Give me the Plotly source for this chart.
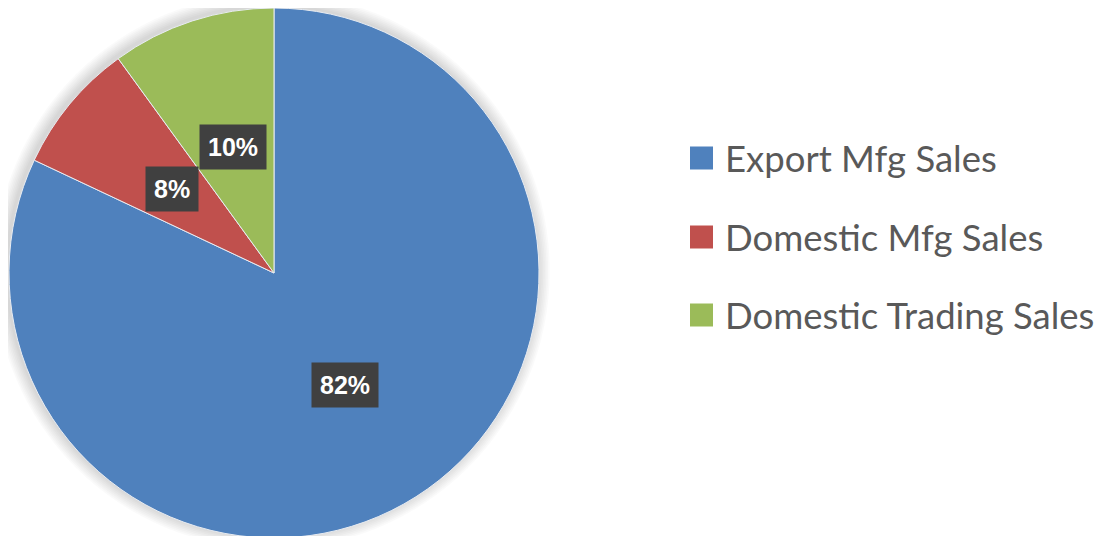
import math
import plotly.graph_objects as go

# Sales mix data
labels = ["Export Mfg Sales", "Domestic Mfg Sales", "Domestic Trading Sales"]
values = [82, 8, 10]
colors = ["#4F81BD", "#C0504D", "#9BBB59"]

W, H = 1119, 536
OFF = 8  # page body margin shifts the figure by 8px
cx_px, cy_px, r_px = 274 - OFF, 273 - OFF, 265

fig = go.Figure()

# soft shadow around the pie
for i in range(1, 9):
    rr = r_px + i * 1.6
    fig.add_shape(
        type="circle", xref="paper", yref="paper", layer="below",
        x0=(cx_px - rr - 2) / W, x1=(cx_px + rr - 2) / W,
        y0=1 - (cy_px + rr - 2) / H, y1=1 - (cy_px - rr - 2) / H,
        fillcolor="rgba(0,0,0,0.018)", line_width=0,
    )

fig.add_trace(go.Pie(
    labels=labels,
    values=values,
    sort=False,
    direction="clockwise",
    rotation=0,
    marker=dict(colors=colors, line=dict(color="#e8ecf2", width=1)),
    textinfo="none",
    hoverinfo="label+percent",
    domain=dict(x=[(cx_px - r_px) / W, (cx_px + r_px) / W],
                y=[1 - (cy_px + r_px) / H, 1 - (cy_px - r_px) / H]),
    showlegend=False,
))

# data labels: dark boxes at the middle of each slice
total = sum(values)
cum = 0
for v in values:
    mid = (cum + v / 2) / total * 2 * math.pi
    cum += v
    dx = 0.5 * r_px * math.sin(mid)
    dy = 0.5 * r_px * math.cos(mid)
    fig.add_annotation(
        x=(cx_px + dx) / W, y=1 - (cy_px - dy) / H,
        xref="paper", yref="paper",
        xanchor="center", yanchor="middle",
        text=f"<b>{round(100 * v / total)}%</b>",
        showarrow=False,
        font=dict(family="Liberation Sans, Arial", size=25, color="white"),
        bgcolor="#404040",
        borderpad=8,
    )

# legend drawn at the right
leg_y = [158, 237, 315]
for lab, col, yp in zip(labels, colors, leg_y):
    yc = 1 - (yp - OFF) / H
    fig.add_shape(
        type="rect", xref="paper", yref="paper",
        x0=(690 - OFF) / W, x1=(713 - OFF) / W,
        y0=yc - 11.5 / H, y1=yc + 11.5 / H,
        fillcolor=col, line_width=0,
    )
    fig.add_annotation(
        x=(725 - OFF - 2) / W, y=yc, xref="paper", yref="paper",
        xanchor="left", yanchor="middle",
        text=lab, showarrow=False,
        font=dict(family="Lato", size=36.5, color="#595959"),
    )

fig.update_layout(
    width=W, height=H,
    margin=dict(l=0, r=0, t=0, b=0),
    paper_bgcolor="white",
    plot_bgcolor="white",
)

fig.write_html("out.html")
